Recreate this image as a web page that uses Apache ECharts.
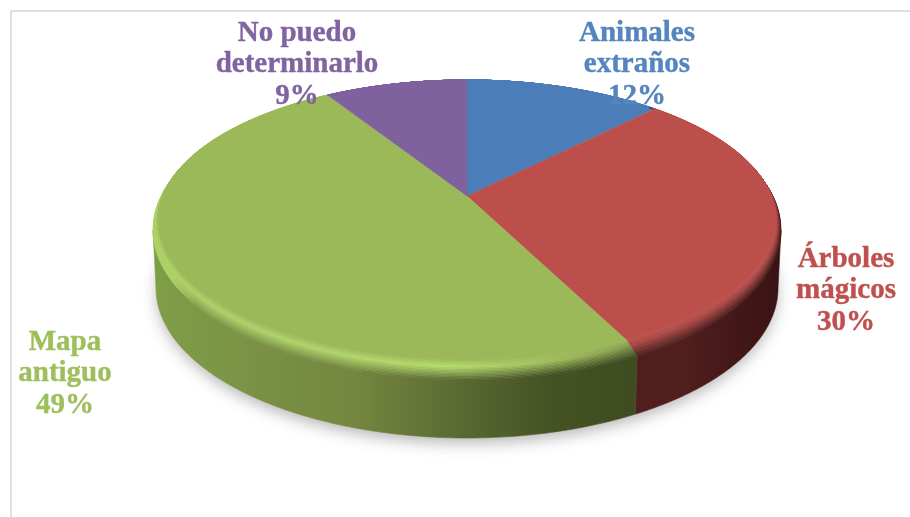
<!DOCTYPE html>
<html><head><meta charset="utf-8">
<style>html,body{margin:0;padding:0;background:#fff}#c{width:910px;height:517px}</style>
<script src="https://cdn.jsdelivr.net/npm/echarts@6/dist/echarts.min.js"></script>
</head><body><div id="c"></div>
<script>
const categories = ['Animales\nextraños', 'Árboles\nmágicos', 'Mapa\nantiguo', 'No puedo\ndeterminarlo'];
const values = [12.2, 30.49, 48.51, 8.8];

const faceColors = ['#4b7eb9', '#bc4f4b', '#9bb958', '#7f619d'];
const labelColors = ['#5585bf', '#c0504d', '#9fbe5c', '#8064a2'];
const labelPos = [[637, 65], [846, 291], [65, 374], [297, 65]];
const sideStops = [
  [[0, '#2c4a6e'], [1, '#2c4a6e']],
  [[0, '#4f1e1d'], [0.85, '#4f1e1d'], [1, '#381312']],
  [[0, '#7f9e48'], [0.3, '#778c43'], [0.42, '#74863f'], [0.6, '#5d6e33'], [0.82, '#455224'], [1, '#3f4b20']],
  [[0, '#4a3a60'], [1, '#4a3a60']]
];
const rimStops = [
  sideStops[0],
  sideStops[1],
  [[0, '#a9d05e'], [0.04, '#a9d05e'], [0.09, '#7f9e48'], [0.3, '#778c43'], [0.42, '#74863f'], [0.6, '#5d6e33'], [0.82, '#455224'], [1, '#3f4b20']],
  sideStops[3]
];
const highStops = [
  [[0, '#4b7eb9'], [1, '#4b7eb9']],
  [[0, '#bc4f4b'], [0.6, '#b04744'], [1, '#a03f3c']],
  [[0, '#a9d05e'], [0.3, '#aed465'], [0.62, '#b4dc6a'], [0.79, '#a3c25c'], [0.93, '#8ca44f'], [1, '#7f9348']],
  [[0, '#7f619d'], [1, '#7f619d']]
];
const gradRange = [[153, 781], [153, 781], [153, 640], [153, 781]];

const CX = 467, PIVOT_Y = 196, DEPTH = 58, LEVELS = 14;
const total = values.reduce((a, b) => a + b, 0);
const starts = [];
values.reduce((acc, v, i) => { starts[i] = acc; return acc + v; }, 0);
const toAngle = v => v / total * Math.PI * 2;

function ellipseAt(s) {           // s=0 outer rim, s=1 flat top
  const top = 80, bottom = 380 - 20 * s, rx = 314 - 5 * s;
  return { rx, ry: (bottom - top) / 2, cy: (bottom + top) / 2 };
}
function project(a, e, dy, pivotY) {
  const y0 = (e.cy - pivotY) / e.ry, u = Math.sin(a), v = Math.cos(a);
  const w = 1 + y0 * v;
  const X = Math.sqrt(1 - y0 * y0) * u / w, Y = (v + y0) / w;
  return [CX + e.rx * X, e.cy - e.ry * Y + dy];
}
function arc(a0, a1, e, dy, pivotY, n) {
  const pts = [];
  n = n || 140;
  for (let k = 0; k <= n; k++) pts.push(project(a0 + (a1 - a0) * k / n, e, dy, pivotY));
  return pts;
}
function hex(c) { return [1, 3, 5].map(i => parseInt(c.substr(i, 2), 16)); }
function mix(c1, c2, t) {
  const a = hex(c1), b = hex(c2);
  return '#' + a.map((x, i) => Math.round(x + (b[i] - x) * t).toString(16).padStart(2, '0')).join('');
}
function colorAt(stops, p) {
  for (let i = 1; i < stops.length; i++) {
    if (p <= stops[i][0]) return mix(stops[i - 1][1], stops[i][1], (p - stops[i - 1][0]) / (stops[i][0] - stops[i - 1][0]));
  }
  return stops[stops.length - 1][1];
}
function gradient(i, fn) {
  const ps = [0, 0.04, 0.09, 0.2, 0.3, 0.42, 0.5, 0.6, 0.62, 0.7, 0.79, 0.82, 0.85, 0.93, 1];
  return new echarts.graphic.LinearGradient(gradRange[i][0], 0, gradRange[i][1], 0,
    ps.map(p => ({ offset: p, color: fn(p) })), true);
}

function renderShadow(params, api) {
  const base = { rx: 310, ry: 150, cy: 230 };
  const pts = arc(0, Math.PI * 2, base, DEPTH, PIVOT_Y + DEPTH);
  return { type: 'polygon', silent: true, shape: { points: pts },
    style: { fill: '#dddddd', shadowColor: 'rgba(70,70,70,0.40)', shadowBlur: 15, shadowOffsetX: 0, shadowOffsetY: 5 } };
}
function renderSide(params, api) {
  const i = params.dataIndex;
  const e = ellipseAt(0), eb = { rx: e.rx - 3, ry: e.ry, cy: e.cy };
  // only the part of the wall that faces the viewer: between the ellipse's right and left extremes
  const aR = Math.acos(-(e.cy - PIVOT_Y) / e.ry), aL = 2 * Math.PI - aR;
  const a0 = Math.max(toAngle(starts[i]), aR), a1 = Math.min(toAngle(starts[i] + values[i]), aL);
  if (a0 >= a1) return null;
  const top = arc(a0, a1, e, 0, PIVOT_Y), bot = arc(a0, a1, eb, DEPTH, PIVOT_Y).reverse();
  const fill = gradient(i, p => colorAt(sideStops[i], p));
  return { type: 'polygon', silent: true, shape: { points: top.concat(bot) }, style: { fill, stroke: fill, lineWidth: 0.6 } };
}
function renderFace(params, api) {
  const i = params.dataIndex, a0 = toAngle(starts[i]), a1 = a0 + toAngle(values[i]);
  const children = [];
  for (let k = 0; k < LEVELS; k++) {
    const s = k / LEVELS;
    const outer = arc(a0, a1, ellipseAt(s), 0, PIVOT_Y), inner = arc(a0, a1, ellipseAt((k + 1) / LEVELS), 0, PIVOT_Y).reverse();
    const fill = gradient(i, p => {
      const side = colorAt(rimStops[i], p), high = colorAt(highStops[i], p);
      return s < 0.65 ? mix(side, high, s / 0.65) : mix(high, faceColors[i], (s - 0.65) / 0.35);
    });
    children.push({ type: 'polygon', silent: true, shape: { points: outer.concat(inner) },
      style: { fill, stroke: fill, lineWidth: 0.5 } });
  }
  const pts = [[CX, PIVOT_Y]].concat(arc(a0, a1, ellipseAt(1), 0, PIVOT_Y));
  children.push({ type: 'polygon', silent: true, shape: { points: pts },
    style: { fill: faceColors[i], stroke: faceColors[i], lineWidth: 0.5 } });
  return { type: 'group', children };
}
function renderLabel(params, api) {
  const i = params.dataIndex;
  return { type: 'text', silent: true, x: labelPos[i][0], y: labelPos[i][1],
    style: { text: categories[i] + '\n' + Math.round(values[i]) + '%', fill: labelColors[i],
      stroke: labelColors[i], lineWidth: 0.4,
      font: 'bold 29px "Liberation Serif"', lineHeight: 31.5, align: 'center', verticalAlign: 'middle' } };
}
const chart = echarts.init(document.getElementById('c'), null, { renderer: 'canvas' });
chart.setOption({
  animation: false,
  backgroundColor: '#fff',
  graphic: [{ type: 'polyline', silent: true, z: 0, shape: { points: [[11, 517], [11, 11], [910, 11]] },
    style: { stroke: '#e0e0e0', lineWidth: 2, fill: null } }],
  series: [
    { type: 'custom', coordinateSystem: 'none', z: 1, data: [0], renderItem: renderShadow },
    { type: 'custom', coordinateSystem: 'none', z: 2, data: values, renderItem: renderSide },
    { type: 'custom', coordinateSystem: 'none', z: 3, data: values, renderItem: renderFace },
    { type: 'custom', coordinateSystem: 'none', z: 4, data: values, renderItem: renderLabel }
  ]
});
</script></body></html>
